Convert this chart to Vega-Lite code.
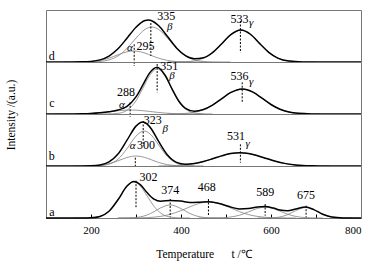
{
"$schema": "https://vega.github.io/schema/vega-lite/v6.json",
"padding": {"left": 5, "top": 8, "right": 5, "bottom": 5},
"bounds": "flush",
"config": {"font": "Liberation Serif", "view": {"stroke": "#777", "strokeWidth": 1},
 "text": {"font": "Liberation Serif"},
 "header": {"labels": false, "titleFont": "Liberation Serif", "titleFontSize": 11.5, "titleFontWeight": "normal", "titleColor": "#000", "titlePadding": 19},
 "axisX": {"labelFont": "Liberation Serif", "titleFont": "Liberation Serif", "labelFontSize": 11, "labelColor": "#000", "titleFontSize": 11.5, "titleFontWeight": "normal", "titleColor": "#000", "domain": false, "grid": false, "tickColor": "#000", "tickSize": -4, "labelPadding": 10, "titlePadding": 13}},
"data": {"values": [
{"k":"c","p":"d","s":"alpha","x":140,"y":0},{"k":"c","p":"d","s":"alpha","x":160,"y":0.02},{"k":"c","p":"d","s":"alpha","x":180,"y":0.11},{"k":"c","p":"d","s":"alpha","x":200,"y":0.48},{"k":"c","p":"d","s":"alpha","x":220,"y":1.57},{"k":"c","p":"d","s":"alpha","x":240,"y":3.86},{"k":"c","p":"d","s":"alpha","x":260,"y":7.2},{"k":"c","p":"d","s":"alpha","x":280,"y":10.2},{"k":"c","p":"d","s":"alpha","x":295,"y":11},{"k":"c","p":"d","s":"alpha","x":300,"y":10.9},{"k":"c","p":"d","s":"alpha","x":320,"y":8.9},{"k":"c","p":"d","s":"alpha","x":335,"y":6.3},{"k":"c","p":"d","s":"alpha","x":350,"y":3.86},{"k":"c","p":"d","s":"alpha","x":370,"y":1.57},{"k":"c","p":"d","s":"alpha","x":390,"y":0.48},{"k":"c","p":"d","s":"alpha","x":410,"y":0.11},{"k":"c","p":"d","s":"alpha","x":430,"y":0.02},{"k":"c","p":"d","s":"alpha","x":450,"y":0},
{"k":"c","p":"d","s":"beta","x":160,"y":0},{"k":"c","p":"d","s":"beta","x":180,"y":0.02},{"k":"c","p":"d","s":"beta","x":200,"y":0.12},{"k":"c","p":"d","s":"beta","x":220,"y":0.56},{"k":"c","p":"d","s":"beta","x":240,"y":2.09},{"k":"c","p":"d","s":"beta","x":260,"y":6.03},{"k":"c","p":"d","s":"beta","x":280,"y":13.6},{"k":"c","p":"d","s":"beta","x":300,"y":23.9},{"k":"c","p":"d","s":"beta","x":320,"y":32.6},{"k":"c","p":"d","s":"beta","x":335,"y":35},{"k":"c","p":"d","s":"beta","x":350,"y":32.6},{"k":"c","p":"d","s":"beta","x":370,"y":23.9},{"k":"c","p":"d","s":"beta","x":390,"y":13.6},{"k":"c","p":"d","s":"beta","x":410,"y":6.03},{"k":"c","p":"d","s":"beta","x":430,"y":2.09},{"k":"c","p":"d","s":"beta","x":450,"y":0.56},{"k":"c","p":"d","s":"beta","x":470,"y":0.12},{"k":"c","p":"d","s":"beta","x":490,"y":0.02},{"k":"c","p":"d","s":"beta","x":510,"y":0},
{"k":"c","p":"d","s":"gamma","x":370,"y":0},{"k":"c","p":"d","s":"gamma","x":390,"y":0.05},{"k":"c","p":"d","s":"gamma","x":410,"y":0.28},{"k":"c","p":"d","s":"gamma","x":430,"y":1.16},{"k":"c","p":"d","s":"gamma","x":450,"y":3.72},{"k":"c","p":"d","s":"gamma","x":470,"y":9.26},{"k":"c","p":"d","s":"gamma","x":490,"y":17.96},{"k":"c","p":"d","s":"gamma","x":510,"y":27.1},{"k":"c","p":"d","s":"gamma","x":533,"y":32},{"k":"c","p":"d","s":"gamma","x":555,"y":27.5},{"k":"c","p":"d","s":"gamma","x":575,"y":18.4},{"k":"c","p":"d","s":"gamma","x":595,"y":9.6},{"k":"c","p":"d","s":"gamma","x":615,"y":3.9},{"k":"c","p":"d","s":"gamma","x":640,"y":0.89},{"k":"c","p":"d","s":"gamma","x":670,"y":0.09},{"k":"c","p":"d","s":"gamma","x":700,"y":0},
{"k":"c","p":"d","s":"env","x":100,"y":0},{"k":"c","p":"d","s":"env","x":160,"y":0.04},{"k":"c","p":"d","s":"env","x":180,"y":0.13},{"k":"c","p":"d","s":"env","x":200,"y":0.6},{"k":"c","p":"d","s":"env","x":220,"y":2.13},{"k":"c","p":"d","s":"env","x":240,"y":5.95},{"k":"c","p":"d","s":"env","x":260,"y":13.2},{"k":"c","p":"d","s":"env","x":280,"y":23.8},{"k":"c","p":"d","s":"env","x":300,"y":34.8},{"k":"c","p":"d","s":"env","x":320,"y":41.5},{"k":"c","p":"d","s":"env","x":328,"y":42},{"k":"c","p":"d","s":"env","x":335,"y":41.3},{"k":"c","p":"d","s":"env","x":350,"y":36.5},{"k":"c","p":"d","s":"env","x":370,"y":25.5},{"k":"c","p":"d","s":"env","x":390,"y":14.1},{"k":"c","p":"d","s":"env","x":410,"y":6.4},{"k":"c","p":"d","s":"env","x":430,"y":3.3},{"k":"c","p":"d","s":"env","x":450,"y":4.3},{"k":"c","p":"d","s":"env","x":470,"y":9.4},{"k":"c","p":"d","s":"env","x":490,"y":18},{"k":"c","p":"d","s":"env","x":510,"y":27.1},{"k":"c","p":"d","s":"env","x":533,"y":32},{"k":"c","p":"d","s":"env","x":555,"y":27.5},{"k":"c","p":"d","s":"env","x":575,"y":18.4},{"k":"c","p":"d","s":"env","x":595,"y":9.6},{"k":"c","p":"d","s":"env","x":615,"y":3.9},{"k":"c","p":"d","s":"env","x":640,"y":0.9},{"k":"c","p":"d","s":"env","x":670,"y":0.1},{"k":"c","p":"d","s":"env","x":700,"y":0},{"k":"c","p":"d","s":"env","x":800,"y":0},
{"k":"c","p":"c","s":"alpha","x":120,"y":0},{"k":"c","p":"c","s":"alpha","x":140,"y":0.02},{"k":"c","p":"c","s":"alpha","x":160,"y":0.07},{"k":"c","p":"c","s":"alpha","x":180,"y":0.22},{"k":"c","p":"c","s":"alpha","x":200,"y":0.59},{"k":"c","p":"c","s":"alpha","x":220,"y":1.28},{"k":"c","p":"c","s":"alpha","x":240,"y":2.26},{"k":"c","p":"c","s":"alpha","x":260,"y":3.3},{"k":"c","p":"c","s":"alpha","x":280,"y":3.94},{"k":"c","p":"c","s":"alpha","x":288,"y":4},{"k":"c","p":"c","s":"alpha","x":300,"y":3.86},{"k":"c","p":"c","s":"alpha","x":315,"y":3.34},{"k":"c","p":"c","s":"alpha","x":330,"y":2.59},{"k":"c","p":"c","s":"alpha","x":347,"y":1.69},{"k":"c","p":"c","s":"alpha","x":365,"y":0.93},{"k":"c","p":"c","s":"alpha","x":380,"y":0.49},{"k":"c","p":"c","s":"alpha","x":395,"y":0.24},{"k":"c","p":"c","s":"alpha","x":410,"y":0.1},{"k":"c","p":"c","s":"alpha","x":430,"y":0.03},{"k":"c","p":"c","s":"alpha","x":450,"y":0},
{"k":"c","p":"c","s":"beta","x":220,"y":0},{"k":"c","p":"c","s":"beta","x":240,"y":0.08},{"k":"c","p":"c","s":"beta","x":260,"y":0.67},{"k":"c","p":"c","s":"beta","x":280,"y":3.72},{"k":"c","p":"c","s":"beta","x":300,"y":13.2},{"k":"c","p":"c","s":"beta","x":315,"y":25.5},{"k":"c","p":"c","s":"beta","x":330,"y":38.3},{"k":"c","p":"c","s":"beta","x":347,"y":45},{"k":"c","p":"c","s":"beta","x":365,"y":37.6},{"k":"c","p":"c","s":"beta","x":380,"y":24.6},{"k":"c","p":"c","s":"beta","x":395,"y":12.5},{"k":"c","p":"c","s":"beta","x":410,"y":4.96},{"k":"c","p":"c","s":"beta","x":430,"y":0.98},{"k":"c","p":"c","s":"beta","x":450,"y":0.12},{"k":"c","p":"c","s":"beta","x":470,"y":0},
{"k":"c","p":"c","s":"gamma","x":370,"y":0},{"k":"c","p":"c","s":"gamma","x":395,"y":0.23},{"k":"c","p":"c","s":"gamma","x":410,"y":0.59},{"k":"c","p":"c","s":"gamma","x":430,"y":1.75},{"k":"c","p":"c","s":"gamma","x":450,"y":4.35},{"k":"c","p":"c","s":"gamma","x":470,"y":8.93},{"k":"c","p":"c","s":"gamma","x":490,"y":15.2},{"k":"c","p":"c","s":"gamma","x":510,"y":21.3},{"k":"c","p":"c","s":"gamma","x":536,"y":25},{"k":"c","p":"c","s":"gamma","x":560,"y":21.8},{"k":"c","p":"c","s":"gamma","x":580,"y":15.8},{"k":"c","p":"c","s":"gamma","x":600,"y":9.5},{"k":"c","p":"c","s":"gamma","x":620,"y":4.72},{"k":"c","p":"c","s":"gamma","x":640,"y":1.94},{"k":"c","p":"c","s":"gamma","x":660,"y":0.66},{"k":"c","p":"c","s":"gamma","x":690,"y":0.09},{"k":"c","p":"c","s":"gamma","x":710,"y":0},
{"k":"c","p":"c","s":"env","x":100,"y":0},{"k":"c","p":"c","s":"env","x":140,"y":0.02},{"k":"c","p":"c","s":"env","x":160,"y":0.07},{"k":"c","p":"c","s":"env","x":180,"y":0.22},{"k":"c","p":"c","s":"env","x":200,"y":0.59},{"k":"c","p":"c","s":"env","x":220,"y":1.28},{"k":"c","p":"c","s":"env","x":240,"y":2.34},{"k":"c","p":"c","s":"env","x":260,"y":3.97},{"k":"c","p":"c","s":"env","x":280,"y":7.66},{"k":"c","p":"c","s":"env","x":300,"y":17.1},{"k":"c","p":"c","s":"env","x":315,"y":28.8},{"k":"c","p":"c","s":"env","x":330,"y":40.9},{"k":"c","p":"c","s":"env","x":347,"y":46.7},{"k":"c","p":"c","s":"env","x":365,"y":38.5},{"k":"c","p":"c","s":"env","x":380,"y":25.2},{"k":"c","p":"c","s":"env","x":395,"y":13},{"k":"c","p":"c","s":"env","x":410,"y":5.65},{"k":"c","p":"c","s":"env","x":430,"y":2.76},{"k":"c","p":"c","s":"env","x":450,"y":4.47},{"k":"c","p":"c","s":"env","x":470,"y":8.94},{"k":"c","p":"c","s":"env","x":490,"y":15.2},{"k":"c","p":"c","s":"env","x":510,"y":21.3},{"k":"c","p":"c","s":"env","x":536,"y":25},{"k":"c","p":"c","s":"env","x":560,"y":21.8},{"k":"c","p":"c","s":"env","x":580,"y":15.8},{"k":"c","p":"c","s":"env","x":600,"y":9.5},{"k":"c","p":"c","s":"env","x":620,"y":4.72},{"k":"c","p":"c","s":"env","x":640,"y":1.94},{"k":"c","p":"c","s":"env","x":660,"y":0.66},{"k":"c","p":"c","s":"env","x":690,"y":0.09},{"k":"c","p":"c","s":"env","x":720,"y":0},{"k":"c","p":"c","s":"env","x":800,"y":0},
{"k":"c","p":"b","s":"alpha","x":160,"y":0},{"k":"c","p":"b","s":"alpha","x":180,"y":0.03},{"k":"c","p":"b","s":"alpha","x":200,"y":0.17},{"k":"c","p":"b","s":"alpha","x":220,"y":0.73},{"k":"c","p":"b","s":"alpha","x":240,"y":2.3},{"k":"c","p":"b","s":"alpha","x":260,"y":5.2},{"k":"c","p":"b","s":"alpha","x":280,"y":8.5},{"k":"c","p":"b","s":"alpha","x":300,"y":10},{"k":"c","p":"b","s":"alpha","x":318,"y":8.76},{"k":"c","p":"b","s":"alpha","x":335,"y":6.07},{"k":"c","p":"b","s":"alpha","x":350,"y":3.6},{"k":"c","p":"b","s":"alpha","x":370,"y":1.35},{"k":"c","p":"b","s":"alpha","x":390,"y":0.37},{"k":"c","p":"b","s":"alpha","x":410,"y":0.07},{"k":"c","p":"b","s":"alpha","x":430,"y":0},
{"k":"c","p":"b","s":"beta","x":180,"y":0},{"k":"c","p":"b","s":"beta","x":200,"y":0.04},{"k":"c","p":"b","s":"beta","x":220,"y":0.32},{"k":"c","p":"b","s":"beta","x":240,"y":1.8},{"k":"c","p":"b","s":"beta","x":260,"y":6.77},{"k":"c","p":"b","s":"beta","x":280,"y":17.3},{"k":"c","p":"b","s":"beta","x":300,"y":29.9},{"k":"c","p":"b","s":"beta","x":318,"y":35},{"k":"c","p":"b","s":"beta","x":335,"y":30.4},{"k":"c","p":"b","s":"beta","x":350,"y":21.2},{"k":"c","p":"b","s":"beta","x":370,"y":9.35},{"k":"c","p":"b","s":"beta","x":390,"y":2.78},{"k":"c","p":"b","s":"beta","x":410,"y":0.56},{"k":"c","p":"b","s":"beta","x":430,"y":0.08},{"k":"c","p":"b","s":"beta","x":450,"y":0},
{"k":"c","p":"b","s":"gamma","x":350,"y":0},{"k":"c","p":"b","s":"gamma","x":370,"y":0.18},{"k":"c","p":"b","s":"gamma","x":390,"y":0.5},{"k":"c","p":"b","s":"gamma","x":410,"y":1.18},{"k":"c","p":"b","s":"gamma","x":430,"y":2.47},{"k":"c","p":"b","s":"gamma","x":450,"y":4.5},{"k":"c","p":"b","s":"gamma","x":470,"y":7.19},{"k":"c","p":"b","s":"gamma","x":490,"y":10.1},{"k":"c","p":"b","s":"gamma","x":510,"y":12.4},{"k":"c","p":"b","s":"gamma","x":531,"y":13.3},{"k":"c","p":"b","s":"gamma","x":550,"y":12.5},{"k":"c","p":"b","s":"gamma","x":570,"y":10.3},{"k":"c","p":"b","s":"gamma","x":590,"y":7.48},{"k":"c","p":"b","s":"gamma","x":610,"y":4.74},{"k":"c","p":"b","s":"gamma","x":630,"y":2.63},{"k":"c","p":"b","s":"gamma","x":650,"y":1.28},{"k":"c","p":"b","s":"gamma","x":670,"y":0.55},{"k":"c","p":"b","s":"gamma","x":690,"y":0.2},{"k":"c","p":"b","s":"gamma","x":710,"y":0.07},{"k":"c","p":"b","s":"gamma","x":730,"y":0},
{"k":"c","p":"b","s":"env","x":100,"y":0},{"k":"c","p":"b","s":"env","x":160,"y":0},{"k":"c","p":"b","s":"env","x":180,"y":0.03},{"k":"c","p":"b","s":"env","x":200,"y":0.21},{"k":"c","p":"b","s":"env","x":220,"y":1.05},{"k":"c","p":"b","s":"env","x":240,"y":4.1},{"k":"c","p":"b","s":"env","x":260,"y":12},{"k":"c","p":"b","s":"env","x":280,"y":25.8},{"k":"c","p":"b","s":"env","x":300,"y":39.9},{"k":"c","p":"b","s":"env","x":315,"y":44},{"k":"c","p":"b","s":"env","x":325,"y":41.9},{"k":"c","p":"b","s":"env","x":335,"y":36.5},{"k":"c","p":"b","s":"env","x":350,"y":24.8},{"k":"c","p":"b","s":"env","x":370,"y":10.9},{"k":"c","p":"b","s":"env","x":390,"y":3.65},{"k":"c","p":"b","s":"env","x":410,"y":1.81},{"k":"c","p":"b","s":"env","x":430,"y":2.56},{"k":"c","p":"b","s":"env","x":450,"y":4.5},{"k":"c","p":"b","s":"env","x":470,"y":7.19},{"k":"c","p":"b","s":"env","x":490,"y":10.1},{"k":"c","p":"b","s":"env","x":510,"y":12.4},{"k":"c","p":"b","s":"env","x":531,"y":13.3},{"k":"c","p":"b","s":"env","x":550,"y":12.5},{"k":"c","p":"b","s":"env","x":570,"y":10.3},{"k":"c","p":"b","s":"env","x":590,"y":7.48},{"k":"c","p":"b","s":"env","x":610,"y":4.74},{"k":"c","p":"b","s":"env","x":630,"y":2.63},{"k":"c","p":"b","s":"env","x":650,"y":1.28},{"k":"c","p":"b","s":"env","x":670,"y":0.55},{"k":"c","p":"b","s":"env","x":690,"y":0.2},{"k":"c","p":"b","s":"env","x":710,"y":0.07},{"k":"c","p":"b","s":"env","x":730,"y":0},{"k":"c","p":"b","s":"env","x":800,"y":0},
{"k":"c","p":"a","s":"p1","x":160,"y":0},{"k":"c","p":"a","s":"p1","x":180,"y":0.02},{"k":"c","p":"a","s":"p1","x":200,"y":0.24},{"k":"c","p":"a","s":"p1","x":220,"y":1.58},{"k":"c","p":"a","s":"p1","x":240,"y":6.7},{"k":"c","p":"a","s":"p1","x":260,"y":18.2},{"k":"c","p":"a","s":"p1","x":280,"y":31.8},{"k":"c","p":"a","s":"p1","x":295,"y":36},{"k":"c","p":"a","s":"p1","x":310,"y":31.8},{"k":"c","p":"a","s":"p1","x":325,"y":21.8},{"k":"c","p":"a","s":"p1","x":340,"y":11.7},{"k":"c","p":"a","s":"p1","x":355,"y":4.87},{"k":"c","p":"a","s":"p1","x":376,"y":0.94},{"k":"c","p":"a","s":"p1","x":400,"y":0.08},{"k":"c","p":"a","s":"p1","x":420,"y":0},
{"k":"c","p":"a","s":"p2","x":260,"y":0},{"k":"c","p":"a","s":"p2","x":280,"y":0.08},{"k":"c","p":"a","s":"p2","x":295,"y":0.34},{"k":"c","p":"a","s":"p2","x":310,"y":1.16},{"k":"c","p":"a","s":"p2","x":325,"y":3.07},{"k":"c","p":"a","s":"p2","x":340,"y":6.33},{"k":"c","p":"a","s":"p2","x":355,"y":10.2},{"k":"c","p":"a","s":"p2","x":376,"y":13},{"k":"c","p":"a","s":"p2","x":400,"y":9.44},{"k":"c","p":"a","s":"p2","x":420,"y":4.43},{"k":"c","p":"a","s":"p2","x":440,"y":1.34},{"k":"c","p":"a","s":"p2","x":462,"y":0.21},{"k":"c","p":"a","s":"p2","x":485,"y":0.02},{"k":"c","p":"a","s":"p2","x":505,"y":0},
{"k":"c","p":"a","s":"p3","x":260,"y":0},{"k":"c","p":"a","s":"p3","x":280,"y":0.02},{"k":"c","p":"a","s":"p3","x":295,"y":0.06},{"k":"c","p":"a","s":"p3","x":310,"y":0.16},{"k":"c","p":"a","s":"p3","x":325,"y":0.37},{"k":"c","p":"a","s":"p3","x":340,"y":0.82},{"k":"c","p":"a","s":"p3","x":355,"y":1.62},{"k":"c","p":"a","s":"p3","x":376,"y":3.65},{"k":"c","p":"a","s":"p3","x":400,"y":7.42},{"k":"c","p":"a","s":"p3","x":420,"y":11.2},{"k":"c","p":"a","s":"p3","x":440,"y":14.5},{"k":"c","p":"a","s":"p3","x":462,"y":16},{"k":"c","p":"a","s":"p3","x":485,"y":14.4},{"k":"c","p":"a","s":"p3","x":505,"y":11.05},{"k":"c","p":"a","s":"p3","x":530,"y":6.35},{"k":"c","p":"a","s":"p3","x":550,"y":3.4},{"k":"c","p":"a","s":"p3","x":570,"y":1.55},{"k":"c","p":"a","s":"p3","x":587,"y":0.7},{"k":"c","p":"a","s":"p3","x":605,"y":0.27},{"k":"c","p":"a","s":"p3","x":620,"y":0.11},{"k":"c","p":"a","s":"p3","x":637,"y":0.04},{"k":"c","p":"a","s":"p3","x":655,"y":0},
{"k":"c","p":"a","s":"p4","x":440,"y":0},{"k":"c","p":"a","s":"p4","x":462,"y":0.02},{"k":"c","p":"a","s":"p4","x":485,"y":0.14},{"k":"c","p":"a","s":"p4","x":505,"y":0.66},{"k":"c","p":"a","s":"p4","x":530,"y":2.79},{"k":"c","p":"a","s":"p4","x":550,"y":6.1},{"k":"c","p":"a","s":"p4","x":570,"y":9.58},{"k":"c","p":"a","s":"p4","x":587,"y":10.8},{"k":"c","p":"a","s":"p4","x":605,"y":9.44},{"k":"c","p":"a","s":"p4","x":620,"y":6.86},{"k":"c","p":"a","s":"p4","x":637,"y":3.81},{"k":"c","p":"a","s":"p4","x":655,"y":1.57},{"k":"c","p":"a","s":"p4","x":677,"y":0.37},{"k":"c","p":"a","s":"p4","x":695,"y":0.08},{"k":"c","p":"a","s":"p4","x":715,"y":0},
{"k":"c","p":"a","s":"p5","x":570,"y":0},{"k":"c","p":"a","s":"p5","x":587,"y":0.03},{"k":"c","p":"a","s":"p5","x":605,"y":0.26},{"k":"c","p":"a","s":"p5","x":620,"y":1.03},{"k":"c","p":"a","s":"p5","x":637,"y":3.35},{"k":"c","p":"a","s":"p5","x":655,"y":7.43},{"k":"c","p":"a","s":"p5","x":677,"y":10.5},{"k":"c","p":"a","s":"p5","x":695,"y":8.33},{"k":"c","p":"a","s":"p5","x":715,"y":3.74},{"k":"c","p":"a","s":"p5","x":735,"y":0.95},{"k":"c","p":"a","s":"p5","x":760,"y":0.08},{"k":"c","p":"a","s":"p5","x":780,"y":0},
{"k":"c","p":"a","s":"env","x":100,"y":0},{"k":"c","p":"a","s":"env","x":160,"y":0},{"k":"c","p":"a","s":"env","x":180,"y":0.02},{"k":"c","p":"a","s":"env","x":200,"y":0.24},{"k":"c","p":"a","s":"env","x":220,"y":1.58},{"k":"c","p":"a","s":"env","x":240,"y":6.7},{"k":"c","p":"a","s":"env","x":260,"y":18.2},{"k":"c","p":"a","s":"env","x":280,"y":31.9},{"k":"c","p":"a","s":"env","x":295,"y":36.4},{"k":"c","p":"a","s":"env","x":310,"y":33.1},{"k":"c","p":"a","s":"env","x":325,"y":25.2},{"k":"c","p":"a","s":"env","x":340,"y":18.9},{"k":"c","p":"a","s":"env","x":355,"y":16.7},{"k":"c","p":"a","s":"env","x":376,"y":17.6},{"k":"c","p":"a","s":"env","x":400,"y":16.9},{"k":"c","p":"a","s":"env","x":420,"y":15.6},{"k":"c","p":"a","s":"env","x":440,"y":15.8},{"k":"c","p":"a","s":"env","x":462,"y":16.2},{"k":"c","p":"a","s":"env","x":485,"y":14.6},{"k":"c","p":"a","s":"env","x":505,"y":11.7},{"k":"c","p":"a","s":"env","x":530,"y":9.1},{"k":"c","p":"a","s":"env","x":550,"y":9.5},{"k":"c","p":"a","s":"env","x":570,"y":11.1},{"k":"c","p":"a","s":"env","x":587,"y":11.5},{"k":"c","p":"a","s":"env","x":605,"y":10},{"k":"c","p":"a","s":"env","x":620,"y":8},{"k":"c","p":"a","s":"env","x":637,"y":7.2},{"k":"c","p":"a","s":"env","x":655,"y":9},{"k":"c","p":"a","s":"env","x":677,"y":10.9},{"k":"c","p":"a","s":"env","x":695,"y":8.4},{"k":"c","p":"a","s":"env","x":715,"y":3.75},{"k":"c","p":"a","s":"env","x":735,"y":0.95},{"k":"c","p":"a","s":"env","x":760,"y":0.08},{"k":"c","p":"a","s":"env","x":780,"y":0},{"k":"c","p":"a","s":"env","x":800,"y":0},
{"k":"m","p":"d","x":296,"y":17.7,"y2":-4},{"k":"m","p":"d","x":333,"y":39,"y2":6},{"k":"m","p":"d","x":532,"y":41,"y2":9.3},
{"k":"m","p":"c","x":287,"y":11.7,"y2":-3},{"k":"m","p":"c","x":347,"y":50,"y2":21.7},{"k":"m","p":"c","x":536,"y":31.7,"y2":11.7},
{"k":"m","p":"b","x":298.5,"y":8.3,"y2":0},{"k":"m","p":"b","x":316,"y":45,"y2":20},{"k":"m","p":"b","x":532,"y":21.7,"y2":3.3},
{"k":"m","p":"a","x":300,"y":37.3,"y2":10.7},{"k":"m","p":"a","x":376,"y":19,"y2":0.7},{"k":"m","p":"a","x":461,"y":19,"y2":2.3},{"k":"m","p":"a","x":587,"y":14,"y2":2.3},{"k":"m","p":"a","x":678,"y":12.3,"y2":0.7},
{"k":"n","p":"d","x":367,"y":46.5,"t":"335"},{"k":"n","p":"d","x":530,"y":42.7,"t":"533"},{"k":"n","p":"d","x":321,"y":16,"t":"295"},
{"k":"n","p":"c","x":374,"y":48.5,"t":"351"},{"k":"n","p":"c","x":530,"y":38.3,"t":"536"},{"k":"n","p":"c","x":278,"y":22.5,"t":"288"},
{"k":"n","p":"b","x":337,"y":46,"t":"323"},{"k":"n","p":"b","x":522,"y":30,"t":"531"},{"k":"n","p":"b","x":322,"y":21,"t":"300"},
{"k":"n","p":"a","x":328,"y":40.7,"t":"302"},{"k":"n","p":"a","x":376,"y":28.3,"t":"374"},{"k":"n","p":"a","x":457,"y":30.7,"t":"468"},{"k":"n","p":"a","x":587,"y":25.7,"t":"589"},{"k":"n","p":"a","x":678,"y":23,"t":"675"},
{"k":"g","p":"d","x":375,"y":35.5,"t":"β"},{"k":"g","p":"d","x":556,"y":39.3,"t":"γ"},{"k":"g","p":"d","x":286.7,"y":14.3,"t":"α"},
{"k":"g","p":"c","x":380,"y":38.5,"t":"β"},{"k":"g","p":"c","x":556,"y":31.7,"t":"γ"},{"k":"g","p":"c","x":268.9,"y":9.5,"t":"α"},
{"k":"g","p":"b","x":365,"y":37.5,"t":"β"},{"k":"g","p":"b","x":548,"y":21.7,"t":"γ"},{"k":"g","p":"b","x":292.6,"y":20,"t":"α"},
{"k":"l","p":"d","x":113,"y":6,"t":"d"},{"k":"l","p":"c","x":113,"y":10.7,"t":"c"},{"k":"l","p":"b","x":113,"y":10,"t":"b"},{"k":"l","p":"a","x":113,"y":5.7,"t":"a"}
]},
"facet": {"row": {"field": "p", "type": "nominal", "sort": ["d","c","b","a"], "title": "Intensity /(a.u.)", "header": {"labels": false}}},
"spacing": 0,
"spec": {
 "width": 315, "height": 52,
 "encoding": {
  "x": {"field": "x", "type": "quantitative", "title": "Temperature\u00a0\u00a0\u00a0\u00a0\u00a0 t /℃", "scale": {"domain": [100, 800], "nice": false, "zero": false}, "axis": {"values": [200,300,400,500,600,700,800], "labelExpr": "datum.value % 200 === 0 ? datum.label : ''"}},
  "y": {"field": "y", "type": "quantitative", "axis": null, "scale": {"domain": [0, 52], "nice": false, "zero": false}}
 },
 "layer": [
  {"transform": [{"filter": "datum.k === 'c' && datum.s !== 'env'"}], "mark": {"type": "line", "interpolate": "monotone", "color": "#808080", "strokeWidth": 0.8}, "encoding": {"detail": {"field": "s"}}},
  {"transform": [{"filter": "datum.k === 'c' && datum.s === 'env'"}], "mark": {"type": "line", "interpolate": "monotone", "color": "#000", "strokeWidth": 1.5}, "encoding": {}},
  {"transform": [{"filter": "datum.k === 'm'"}], "mark": {"type": "rule", "color": "#000", "strokeWidth": 1, "strokeDash": [2, 1.5]}, "encoding": {"y2": {"field": "y2"}}},
  {"transform": [{"filter": "datum.k === 'n'"}], "mark": {"type": "text", "font": "Liberation Serif", "fontSize": 12, "color": "#000", "baseline": "middle"}, "encoding": {"text": {"field": "t"}}},
  {"transform": [{"filter": "datum.k === 'g'"}], "mark": {"type": "text", "font": "Liberation Serif", "fontSize": 11, "fontStyle": "italic", "color": "#000", "baseline": "middle"}, "encoding": {"text": {"field": "t"}}},
  {"transform": [{"filter": "datum.k === 'l'"}], "mark": {"type": "text", "font": "Liberation Serif", "fontSize": 12, "color": "#000", "baseline": "middle"}, "encoding": {"text": {"field": "t"}}}
 ]
}
}
